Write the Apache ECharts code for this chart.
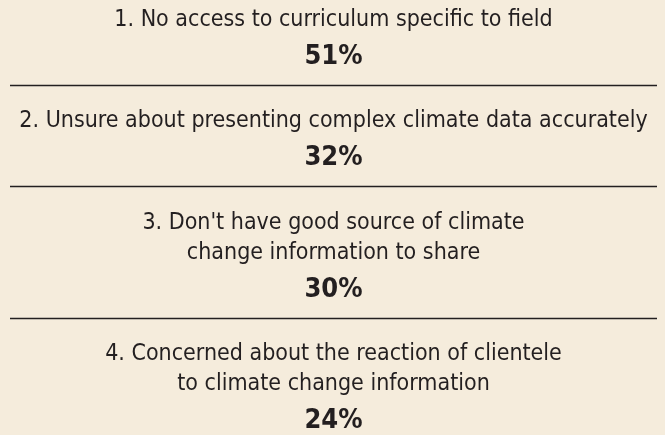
<!DOCTYPE html>
<html>
<head>
<meta charset="utf-8">
<script src="https://cdn.jsdelivr.net/npm/echarts@6/dist/echarts.min.js"></script>
<style>
  html, body { margin: 0; padding: 0; background: #f5ecdc; }
  #chart { width: 665px; height: 435px; }
</style>
</head>
<body>
<div id="chart"></div>
<script>
// 各项问题（换行处与原图一致）
const questions = [
  "1. No access to curriculum specific to field",
  "2. Unsure about presenting complex climate data accurately",
  "3. Don't have good source of climate\nchange information to share",
  "4. Concerned about the reaction of clientele\nto climate change information",
];
// 百分比
const percents = [51, 32, 30, 24];

// 版面间距（像素单位，y轴 0~435）
const topPad = 20;
const lineGap = 30;
const pctGap = 36.5;
const sepGap = 28.5;
const afterSep = 36.5;

let textPoints = [];
let pctPoints = [];
let sepLines = [];
let y = topPad;
questions.forEach((q, i) => {
  const lines = q.split("\n");
  lines.forEach((line, j) => {
    textPoints.push({ value: [0.5, y], name: line });
    if (j < lines.length - 1) y += lineGap;
  });
  y += pctGap;
  pctPoints.push({ value: [0.5, y], name: percents[i] + "%" });
  if (i < questions.length - 1) {
    y += sepGap;
    sepLines.push({ yAxis: y });
    y += afterSep;
  }
});

const chart = echarts.init(document.getElementById("chart"));
const font = "'DejaVu Sans Condensed', sans-serif";
let option = {
  backgroundColor: "#f5ecdc",
  animation: false,
  grid: { left: 10, right: 8, top: 0, bottom: 0 },
  xAxis: { type: "value", min: 0, max: 1, show: false },
  yAxis: { type: "value", min: 0, max: 435, inverse: true, show: false },
  series: [
    {
      type: "scatter",
      symbolSize: 0,
      silent: true,
      itemStyle: { opacity: 1 },
      data: textPoints,
      label: {
        show: true,
        position: "inside",
        formatter: "{b}",
        fontFamily: font,
        fontSize: 23,
        color: "#231f20",
      },
      markLine: {
        silent: true,
        symbol: "none",
        label: { show: false },
        lineStyle: { color: "#231f20", width: 1.3, type: "solid" },
        data: sepLines,
      },
    },
    {
      type: "scatter",
      symbolSize: 0,
      silent: true,
      itemStyle: { opacity: 1 },
      data: pctPoints,
      label: {
        show: true,
        position: "inside",
        formatter: "{b}",
        fontFamily: font,
        fontWeight: "bold",
        fontSize: 27,
        color: "#231f20",
      },
    },
  ],
};
option && chart.setOption(option);
</script>
</body>
</html>
